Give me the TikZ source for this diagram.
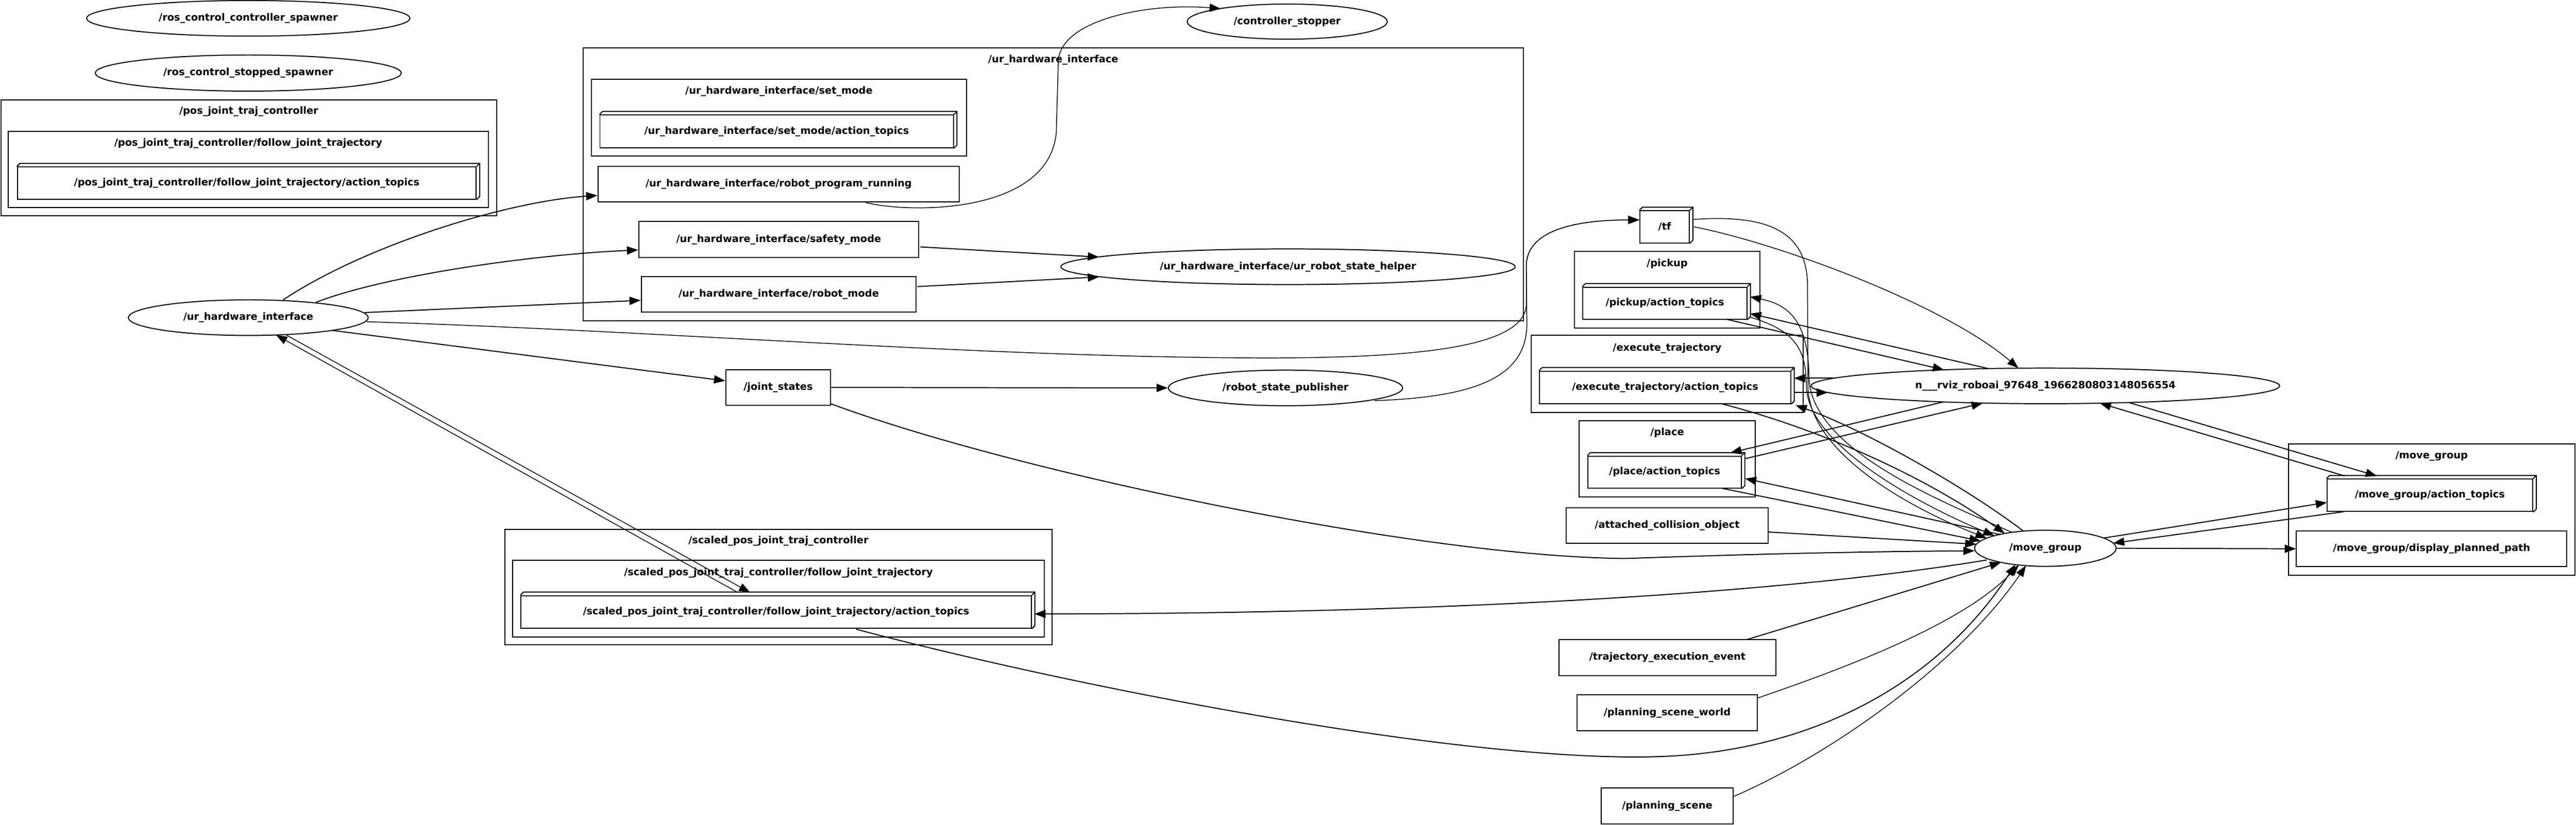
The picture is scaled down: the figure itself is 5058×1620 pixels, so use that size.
\documentclass[tikz,border=0pt]{standalone}
\usepackage{fontspec}
\setmainfont{DejaVu Sans}
\usetikzlibrary{arrows.meta,calc,shapes.geometric}
\newcommand{\boxdd}[1]{%
  \draw[line width=1pt,line join=miter] (#1.north west) -- ++(6,-6) -- ($(#1.north east)+(6,-6)$) -- ($(#1.south east)+(6,-6)$) -- (#1.south east);
  \draw[line width=1pt] (#1.north east) -- ++(6,-6);}
\tikzset{
  lab/.style={font=\bfseries\fontsize{9.8}{11}\selectfont},
  topic/.style={draw,rectangle,line width=1pt,inner sep=0pt,lab},
  rosnode/.style={draw,ellipse,line width=1pt,inner sep=0pt,lab},
  clus/.style={draw,rectangle,line width=1pt,inner sep=0pt},
  ctitle/.style={inner sep=0pt,lab},
  edge/.style={line width=1pt,-{Triangle[length=11pt,width=8pt]}},
  thinedge/.style={edge,line width=0.75pt},
}
\begin{document}
\begin{tikzpicture}[x=0.5pt,y=-0.5pt]
\useasboundingbox[fill=white] (0,0) rectangle (5058,1620);

% ---------- clusters ----------
\node[clus,minimum width=486.5pt,minimum height=114pt] (c1) at (488.5,310) {};
\node[ctitle] (c1t) at ($(c1.north)+(0,24)$) {/pos\_joint\_traj\_controller};
\node[clus,minimum width=471.5pt,minimum height=75pt] (c1b) at (487.5,333) {};
\node[ctitle] (c1bt) at ($(c1b.north)+(0,25)$) {/pos\_joint\_traj\_controller/follow\_joint\_trajectory};

\node[clus,minimum width=923pt,minimum height=268pt] (c2) at (2068,362) {};
\node[ctitle] (c2t) at ($(c2.north)+(0,25)$) {/ur\_hardware\_interface};
\node[clus,minimum width=368.5pt,minimum height=75.5pt] (c2b) at (1529.5,231.5) {};
\node[ctitle] (c2bt) at ($(c2b.north)+(0,24)$) {/ur\_hardware\_interface/set\_mode};

\node[clus,minimum width=537.5pt,minimum height=113.5pt] (c3) at (1528.5,1153.5) {};
\node[ctitle] (c3t) at ($(c3.north)+(0,24)$) {/scaled\_pos\_joint\_traj\_controller};
\node[clus,minimum width=521.5pt,minimum height=75pt] (c3b) at (1528.5,1176) {};
\node[ctitle] (c3bt) at ($(c3b.north)+(0,25)$) {/scaled\_pos\_joint\_traj\_controller/follow\_joint\_trajectory};

\node[clus,minimum width=182.5pt,minimum height=75pt] (c4) at (3273.5,569) {};
\node[ctitle] (c4t) at ($(c4.north)+(0,25)$) {/pickup};
\node[clus,minimum width=267.5pt,minimum height=75.5pt] (c5) at (3273.5,734.5) {};
\node[ctitle] (c5t) at ($(c5.north)+(0,26)$) {/execute\_trajectory};
\node[clus,minimum width=172.5pt,minimum height=75pt] (c6) at (3273.5,901) {};
\node[ctitle] (c6t) at ($(c6.north)+(0,25)$) {/place};
\node[clus,minimum width=281.5pt,minimum height=129pt] (c7) at (4774.5,1001) {};
\node[ctitle] (c7t) at ($(c7.north)+(0,25)$) {/move\_group};

% ---------- ROS nodes (ellipses) ----------
\node[rosnode,minimum width=317.5pt,minimum height=35pt] (ccs) at (487.5,36) {/ros\_control\_controller\_spawner};
\node[rosnode,minimum width=300.5pt,minimum height=35.5pt] (css) at (487.5,143.5) {/ros\_control\_stopped\_spawner};
\node[rosnode,minimum width=235.5pt,minimum height=35pt] (uhi) at (487.5,624) {/ur\_hardware\_interface};
\node[rosnode,minimum width=446pt,minimum height=35pt] (ursh) at (2529,524) {/ur\_hardware\_interface/ur\_robot\_state\_helper};
\node[rosnode,minimum width=196.5pt,minimum height=34.5pt] (cs) at (2527.5,42.5) {/controller\_stopper};
\node[rosnode,minimum width=230pt,minimum height=35pt] (rsp) at (2524,762) {/robot\_state\_publisher};
\node[rosnode,minimum width=460pt,minimum height=35pt] (rviz) at (4016,758) {n\_\_\_rviz\_roboai\_97648\_1966280803148056554};
\node[rosnode,minimum width=139pt,minimum height=35.5pt] (mg) at (4016,1077) {/move\_group};

% ---------- topics (boxes) ----------
\node[topic,minimum width=355pt,minimum height=35pt] (rpr) at (1529,362) {/ur\_hardware\_interface/robot\_program\_running};
\node[topic,minimum width=275pt,minimum height=35.5pt] (sm) at (1529,470.5) {/ur\_hardware\_interface/safety\_mode};
\node[topic,minimum width=270pt,minimum height=35pt] (rm) at (1529,578) {/ur\_hardware\_interface/robot\_mode};
\node[topic,minimum width=103pt,minimum height=35pt] (js) at (1528,761) {/joint\_states};
\node[topic,minimum width=198.5pt,minimum height=35pt] (aco) at (3273.5,1032) {/attached\_collision\_object};
\node[topic,minimum width=213pt,minimum height=35.5pt] (tee) at (3274,1291.5) {/trajectory\_execution\_event};
\node[topic,minimum width=177.5pt,minimum height=35pt] (psw) at (3273.5,1400) {/planning\_scene\_world};
\node[topic,minimum width=129.5pt,minimum height=35.5pt] (ps) at (3273.5,1583.5) {/planning\_scene};
\node[topic,minimum width=265.5pt,minimum height=35pt] (dpp) at (4774.5,1078) {/move\_group/display\_planned\_path};

% ---------- action topic groups (3d boxes) ----------
\node[topic,minimum width=450.5pt,minimum height=31.5pt] (pat) at (484.5,359.5) {/pos\_joint\_traj\_controller/follow\_joint\_trajectory/action\_topics};
\boxdd{pat}
\node[topic,minimum width=347pt,minimum height=32pt] (smat) at (1525,258) {/ur\_hardware\_interface/set\_mode/action\_topics};
\boxdd{smat}
\node[topic,minimum width=48.5pt,minimum height=31.5pt] (tf) at (3268.5,445.5) {/tf};
\boxdd{tf}
\node[topic,minimum width=161pt,minimum height=31.5pt] (pkat) at (3269,595.5) {/pickup/action\_topics};
\boxdd{pkat}
\node[topic,minimum width=246.5pt,minimum height=32pt] (exat) at (3269.5,761) {/execute\_trajectory/action\_topics};
\boxdd{exat}
\node[topic,minimum width=150.5pt,minimum height=31.5pt] (plat) at (3268.5,927.5) {/place/action\_topics};
\boxdd{plat}
\node[topic,minimum width=501pt,minimum height=32pt] (spat) at (1524,1202) {/scaled\_pos\_joint\_traj\_controller/follow\_joint\_trajectory/action\_topics};
\boxdd{spat}
\node[topic,minimum width=202pt,minimum height=32pt] (mgat) at (4771,973) {/move\_group/action\_topics};
\boxdd{mgat}

% ---------- connectors ----------
\draw[edge] ($(uhi)+(68.5,-35)$) .. controls (720,480) and (1000,395) .. ($(rpr.west)+(0,22)$);
\draw[edge] ($(uhi)+(132.5,-30)$) .. controls (760,540) and (1050,500) .. ($(sm.west)+(0,20.5)$);
\draw[edge] ($(uhi)+(228.5,-10)$) -- ($(rm.west)+(0,12)$);
\draw[thinedge] ($(uhi)+(232.5,8)$) .. controls (1300,650) and (1900,700) .. (2450,703) .. controls (2800,705) and (2990,680) .. (2997,600) -- (2997,520) .. controls (2999,450) and (3100,432) .. ($(tf.west)+(0,-13.5)$);
\draw[thinedge] ($(rsp)+(175,25)$) .. controls (2900,780) and (2995,740) .. (2998,640) -- (2997,520) .. controls (2999,450) and (3100,432) .. ($(tf.west)+(0,-13.5)$);
\draw[edge] ($(uhi)+(164.5,25)$) -- ($(js.west)+(0,-13)$);
\draw[thinedge] ($(spat)+(-75,-38)$) -- ($(uhi)+(54.5,34)$);
\draw[thinedge] ($(uhi)+(74.5,34)$) -- ($(spat)+(-51,-38)$);
\draw[thinedge] ($(rpr)+(171,36)$) .. controls (1790,420) and (2060,420) .. (2074,260) -- (2078,120) .. controls (2082,40) and (2250,5) .. ($(cs)+(-130.5,-25.5)$);
\draw[edge] ($(sm)+(278,14.5)$) -- ($(ursh)+(-371,-19)$);
\draw[edge] ($(rm)+(272,-15)$) -- ($(ursh)+(-371,20)$);
\draw[edge] (js.east) -- (rsp.west);
\draw[edge] ($(js)+(103,32)$) .. controls (2000,930) and (2800,1095) .. (3193,1097) .. controls (3400,1090) and (3600,1084) .. ($(mg)+(-139,5)$);
\draw[edge] ($(spat)+(157,34)$) .. controls (2150,1360) and (2900,1500) .. (3263,1486) .. controls (3550,1475) and (3800,1350) .. ($(mg)+(-59,32)$);
\draw[edge] ($(mg)+(-115,23)$) .. controls (3600,1150) and (3000,1205) .. ($(spat)+(507,4)$);
\draw[thinedge] ($(tf)+(57.5,0)$) .. controls (3500,480) and (3820,600) .. ($(rviz)+(-53,-35)$);
\draw[thinedge] ($(tf)+(57.5,-14.5)$) .. controls (3480,420) and (3548,460) .. (3549,560) -- (3550,760) .. controls (3553,900) and (3780,1010) .. ($(mg)+(-115.2,-19.9)$);
\draw[edge] ($(pkat)+(120,31.5)$) -- ($(rviz)+(-199,-31.5)$);
\draw[edge] ($(rviz)+(-112,-34)$) -- ($(pkat)+(167,20.5)$);
\draw[thinedge] ($(mg)+(-65.3,-31.3)$) .. controls (3800,980) and (3554,880) .. (3552,740) .. controls (3550,640) and (3520,600) .. ($(pkat)+(167,-12.5)$);
\draw[thinedge] ($(pkat)+(165,27)$) .. controls (3530,650) and (3546,690) .. (3547,760) .. controls (3550,880) and (3790,1000) .. ($(mg)+(-100,-24.7)$);
\draw[edge] ($(exat)+(253.5,10)$) -- ($(rviz)+(-427,13)$);
\draw[edge] ($(rviz)+(-416,-15)$) -- ($(exat)+(253,-18)$);
\draw[edge] ($(exat)+(110.5,32)$) .. controls (3600,850) and (3800,950) .. ($(mg)+(-79.7,-29.1)$);
\draw[edge] ($(mg)+(-43,-33.8)$) .. controls (3850,950) and (3650,840) .. ($(exat)+(256,35)$);
\draw[edge] ($(plat)+(158,-26.5)$) -- ($(rviz)+(-123,34)$);
\draw[edge] ($(rviz)+(-200,31.5)$) -- ($(plat)+(129,-38)$);
\draw[edge] ($(mg)+(-89.3,-27.2)$) -- ($(plat)+(158,12.5)$);
\draw[edge] ($(plat)+(111.5,31.5)$) -- ($(mg)+(-127,-14.4)$);
\draw[edge] ($(aco)+(198.5,13)$) -- ($(mg)+(-135.4,-8)$);
\draw[edge] ($(tee)+(157,-35.5)$) -- ($(mg)+(-87,27.7)$);
\draw[thinedge] ($(psw)+(178,-29)$) .. controls (3600,1320) and (3850,1230) .. ($(mg)+(-52,32.9)$);
\draw[thinedge] ($(ps)+(129.5,-18.5)$) .. controls (3600,1480) and (3850,1300) .. ($(mg)+(-38,34)$);
\draw[edge] ($(rviz)+(164,32.7)$) -- ($(mgat)+(-104,-38)$);
\draw[edge] ($(mgat)+(-167,-38)$) -- ($(rviz)+(107,34)$);
\draw[edge] ($(mg)+(114,-20)$) -- ($(mgat)+(-202,14)$);
\draw[edge] ($(mgat)+(-168,32)$) -- ($(mg)+(133,-10)$);
\draw[edge] (mg.east) -- (dpp.west);
\end{tikzpicture}
\end{document}
